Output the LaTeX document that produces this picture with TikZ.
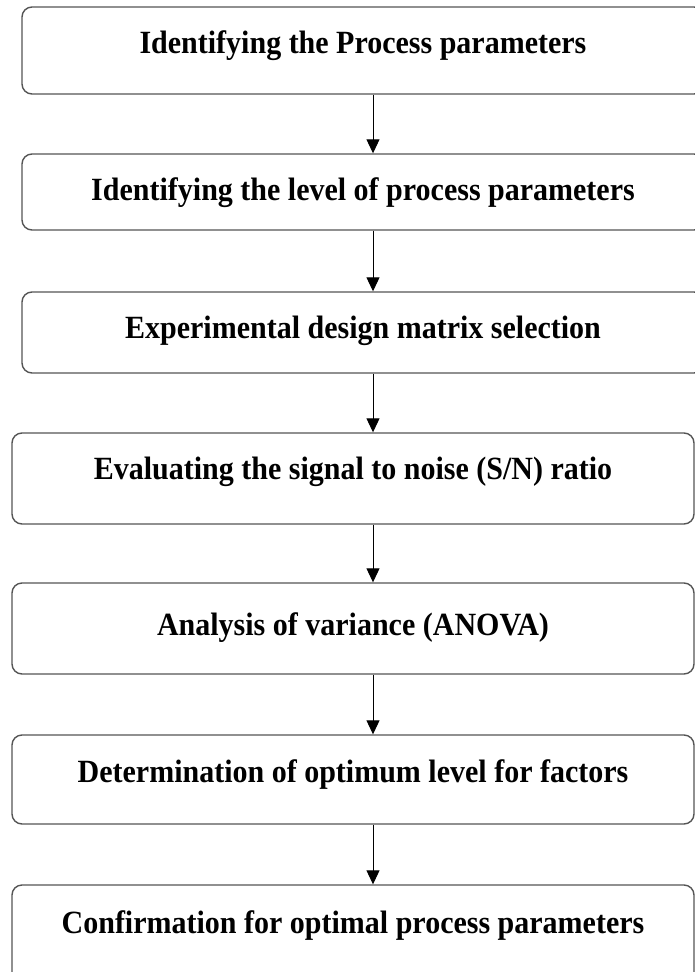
\documentclass[tikz,border=0pt]{standalone}
\usepackage{fontspec}
\setmainfont{Liberation Serif}
\usetikzlibrary{arrows.meta}
\definecolor{boxline}{RGB}{85,85,85}
\newcommand{\steplabel}[1]{\scalebox{1}[1.08]{#1}}
\begin{document}
\begin{tikzpicture}[x=1pt,y=-1pt,
  stepbox/.style={draw=boxline, line width=1.4pt, rounded corners=10pt,
    minimum width=682pt, inner sep=0pt},
  steptext/.style={anchor=base, inner sep=0pt,
    font=\fontsize{30}{36}\selectfont\bfseries},
  flow/.style={draw=black, line width=1pt,
    -{Triangle[width=13pt,length=14pt]}}]
\useasboundingbox (0,0) rectangle (695,972);
\clip (0,0) rectangle (695,972);
\fill[white] (0,0) rectangle (695,972);

% step frames
\node[stepbox, minimum height=87pt]  (b1) at (363,50.5)  {};
\node[stepbox, minimum height=76pt]  (b2) at (363,192)   {};
\node[stepbox, minimum height=81pt]  (b3) at (363,332.5) {};
\node[stepbox, minimum height=91pt]  (b4) at (353,478.5) {};
\node[stepbox, minimum height=91pt]  (b5) at (353,628.5) {};
\node[stepbox, minimum height=89pt]  (b6) at (353,779.5) {};
\node[stepbox, minimum height=100pt] (b7) at (353,935)   {};

% step labels
\node[steptext] (t1) at (363,53)  {\steplabel{Identifying the Process parameters}};
\node[steptext] (t2) at (363,200) {\steplabel{Identifying the level of process parameters}};
\node[steptext] (t3) at (363,338) {\steplabel{Experimental design matrix selection}};
\node[steptext] (t4) at (353,479) {\steplabel{Evaluating the signal to noise (S/N) ratio}};
\node[steptext] (t5) at (353,635) {\steplabel{Analysis of variance (ANOVA)}};
\node[steptext] (t6) at (353,782) {\steplabel{Determination of optimum level for factors}};
\node[steptext] (t7) at (353,933) {\steplabel{Confirmation for optimal process parameters}};

% connectors run down a common vertical line
\coordinate (ax) at (373,0);
\draw[flow] (b1.south -| ax) -- (b2.north -| ax);
\draw[flow] (b2.south -| ax) -- (b3.north -| ax);
\draw[flow] (b3.south -| ax) -- (b4.north -| ax);
\draw[flow] (b4.south -| ax) -- (b5.north -| ax);
\draw[flow] (b5.south -| ax) -- (b6.north -| ax);
\draw[flow] (b6.south -| ax) -- (b7.north -| ax);
\end{tikzpicture}
\end{document}
